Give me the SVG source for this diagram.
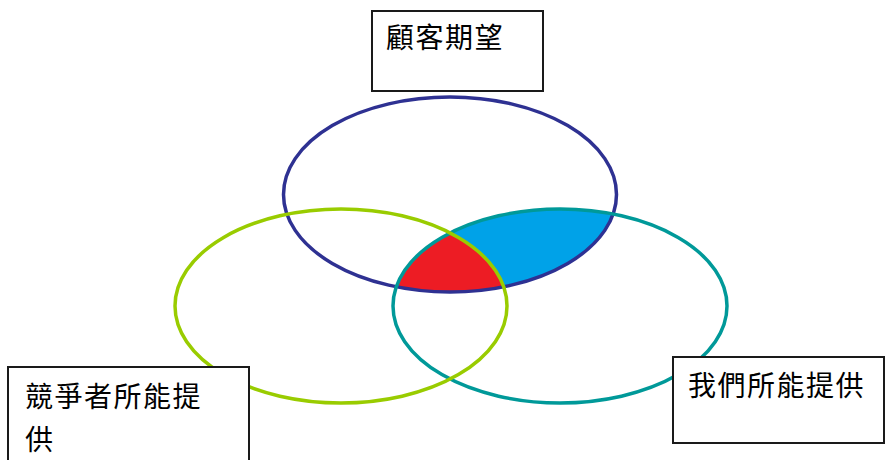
<svg xmlns="http://www.w3.org/2000/svg" width="886" height="460" viewBox="0 0 886 460">
  <style>
    .ring { fill: none; stroke-width: 3.5; }
    .box { fill: #ffffff; stroke: #1a1a1a; stroke-width: 2; }
    .lbl { font-family: "Noto Sans CJK TC", "Noto Sans CJK SC", sans-serif; font-size: 28px; fill: #000000; letter-spacing: 1.5px; }
  </style>
  <defs>
    <clipPath id="clipBlue"><ellipse cx="450" cy="194.5" rx="166.5" ry="97.5"/></clipPath>
    <clipPath id="clipGreen"><ellipse cx="341" cy="306" rx="166" ry="97"/></clipPath>
  </defs>
  <rect width="886" height="460" fill="#ffffff"/>
  <g id="regions">
    <g clip-path="url(#clipBlue)">
      <ellipse cx="560" cy="306" rx="167" ry="97" fill="#00a2e8"/>
      <g clip-path="url(#clipGreen)">
        <ellipse cx="560" cy="306" rx="167" ry="97" fill="#ed1c24"/>
      </g>
    </g>
  </g>
  <g id="circle-customer"><ellipse class="ring" cx="450" cy="194.5" rx="166.5" ry="97.5" stroke="#2e3192"/></g>
  <g id="circle-ours"><ellipse class="ring" cx="560" cy="306" rx="167" ry="97" stroke="#009999"/></g>
  <g id="circle-competitor"><ellipse class="ring" cx="341" cy="306" rx="166" ry="97" stroke="#99cc00"/></g>
  <g id="connectors"></g>
  <g id="label-customer">
    <rect class="box" x="372" y="11" width="171" height="80"/>
    <text class="lbl" x="386" y="48">顧客期望</text>
  </g>
  <g id="label-competitor">
    <rect class="box" x="8" y="367" width="241" height="100"/>
    <text class="lbl" x="25" y="407">競爭者所能提</text>
    <text class="lbl" x="25" y="450">供</text>
  </g>
  <g id="label-ours">
    <rect class="box" x="673" y="357" width="211" height="86"/>
    <text class="lbl" x="688" y="396">我們所能提供</text>
  </g>
</svg>
